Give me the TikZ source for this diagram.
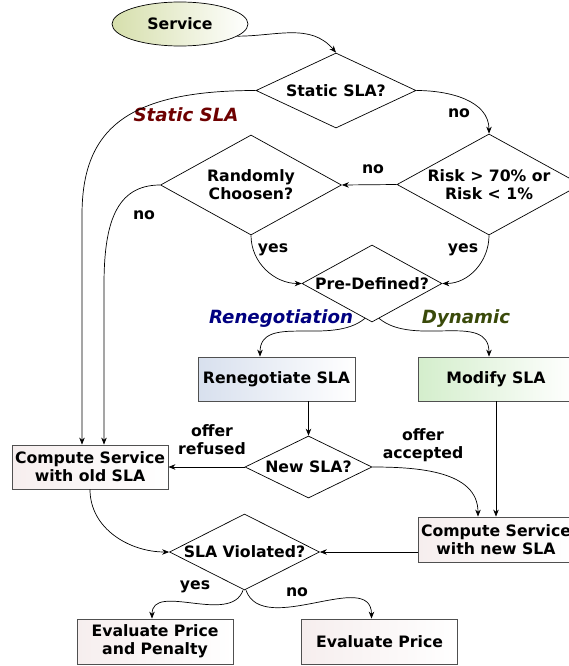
\documentclass[tikz,border=0pt]{standalone}
\usepackage{fontspec}
\setmainfont{DejaVu Sans}
\usetikzlibrary{shapes.geometric,arrows.meta,calc}
\definecolor{servc}{RGB}{214,223,172}
\definecolor{renc}{RGB}{216,224,238}
\definecolor{modc}{RGB}{212,238,204}
\definecolor{plainc}{RGB}{246,238,238}
\definecolor{boxline}{RGB}{80,80,80}
\definecolor{lblred}{RGB}{110,0,0}
\definecolor{lblblue}{RGB}{0,0,128}
\definecolor{lblgreen}{RGB}{58,74,10}
\begin{document}
\begin{tikzpicture}[x=1pt,y=1pt,
  font=\fontsize{15.7}{18}\selectfont\bfseries,
  dia/.style={diamond, draw=black, line width=0.7pt, inner sep=0pt, align=center},
  box/.style={rectangle, draw=boxline, line width=0.8pt, minimum width=156pt, minimum height=44pt, inner sep=0pt, align=center, left color=plainc, right color=white},
  ell/.style={ellipse, draw=black, line width=0.7pt, minimum width=136pt, minimum height=44pt, inner sep=0pt, left color=servc, right color=white},
  arr/.style={-{Stealth[length=7pt,width=5.5pt]}, line width=0.7pt},
  lab/.style={inner sep=0pt, align=center},
  biglab/.style={inner sep=0pt, font=\fontsize{18.2}{21}\selectfont\bfseries\itshape}]
\useasboundingbox (0,0) rectangle (568,-666);

% nodes
\node[ell] (serv) at (180,-24) {Service};
\node[dia, minimum width=160pt, minimum height=75pt, aspect=2.13] (static) at (336,-90.5) {Static SLA?};
\node[dia, minimum width=184pt, minimum height=101pt, aspect=1.82] (risk) at (489,-184.5) {Risk > 70\% or\\Risk < 1\%};
\node[dia, minimum width=181pt, minimum height=100pt, aspect=1.81] (rand) at (251,-185) {Randomly\\Choosen?};
\node[dia, minimum width=140pt, minimum height=77pt, aspect=1.82] (pre) at (372,-283.5) {Pre-Defined?};
\node[box, minimum width=157pt, left color=renc] (reneg) at (276.5,-379) {Renegotiate SLA};
\node[box, left color=modc] (modify) at (496,-379) {Modify SLA};
\node[dia, minimum width=127pt, minimum height=62pt, aspect=2.05] (newsla) at (308.5,-467) {New SLA?};
\node[box] (old) at (90,-467) {Compute Service\\with old SLA};
\node[box, minimum height=45pt] (cnew) at (496,-539.5) {Compute Service\\with new SLA};
\node[dia, minimum width=150pt, minimum height=76pt, aspect=1.97] (viol) at (244.5,-552) {SLA Violated?};
\node[box, minimum height=45pt] (evp) at (155,-641.5) {Evaluate Price\\and Penalty};
\node[box, minimum height=45pt] (evpr) at (379.5,-641.5) {Evaluate Price};

% labels
\node[biglab, text=lblred] (lstatic) at (186,-115) {Static SLA};
\node[biglab, text=lblblue] (lreneg) at (281,-319) {Renegotiation};
\node[biglab, text=lblgreen] (ldyn) at (466,-319) {Dynamic};
\node[lab] (lno1) at (459,-113) {no};
\node[lab] (lno2) at (373,-169) {no};
\node[lab] (lno3) at (144,-215) {no};
\node[lab] (lyes1) at (273,-250) {yes};
\node[lab] (lyes2) at (463,-250) {yes};
\node[lab] (lref) at (212,-440) {offer\\refused};
\node[lab] (lacc) at (423,-445) {offer\\accepted};
\node[lab] (lyes3) at (195,-587) {yes};
\node[lab] (lno4) at (297,-592) {no};

% connectors
\draw[arr] (serv.-12) to[out=0,in=130] (static.north);
\draw[arr] (static.west) .. controls +(-130,0) and +(0,85) .. ([xshift=-8pt]old.north |- 0,-215) -- ([xshift=-8pt]old.north);
\draw[arr] (static.east) to[out=0,in=90] (risk.north);
\draw[arr] (risk.west) -- (rand.east);
\draw[arr] (rand.west) .. controls +(-45,0) and +(0,60) .. ([xshift=14pt]old.north |- 0,-285) -- ([xshift=14pt]old.north);
\draw[arr] (rand.south) to[out=-90,in=180] (pre.west);
\draw[arr] (risk.south) to[out=-90,in=0] (pre.east);
\draw[arr] ([shift={(-7pt,4pt)}]pre.south) to[out=-140,in=90] ([xshift=-16.5pt]reneg.north);
\draw[arr] ([shift={(7pt,4pt)}]pre.south) to[out=-40,in=90] ([xshift=-7pt]modify.north);
\draw[arr] (newsla.north |- reneg.south) -- (newsla.north);
\draw[arr] (newsla.west) -- (old.east);
\draw[arr] (newsla.east) to[out=0,in=90] ([xshift=-18pt]cnew.north);
\draw[arr] (modify.south) -- (cnew.north);
\draw[arr] (old.south) to[out=-90,in=180] (viol.west);
\draw[arr] (cnew.west |- viol.east) -- (viol.east);
\draw[arr] ([xshift=-1.5pt]viol.south) to[out=-110,in=90] ([xshift=-3pt]evp.north);
\draw[arr] ([xshift=1.5pt]viol.south) to[out=-70,in=90] ([xshift=-8pt]evpr.north);
\end{tikzpicture}
\end{document}
